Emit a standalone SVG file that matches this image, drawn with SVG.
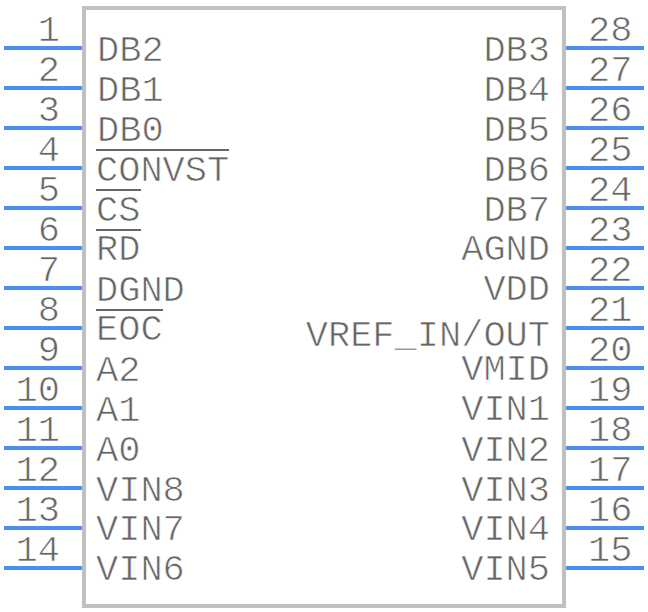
<svg xmlns="http://www.w3.org/2000/svg" width="648" height="612" viewBox="0 0 648 612">
<style>
text{font-family:"Liberation Mono","Courier New",monospace;font-size:37px;fill:#666;stroke:#fff;stroke-width:.7px;paint-order:fill stroke}
.r{text-anchor:end}
.n{text-anchor:end}
.p{stroke:#4a90f2;stroke-width:4;fill:none}
.o{stroke:#666;stroke-width:2;fill:none}
</style>
<rect width="648" height="612" fill="#fff"/>
<g id="body"><rect x="84" y="8" width="480" height="598" fill="#fff" stroke="#c0c0c0" stroke-width="4"/></g>
<g id="connectors">
<path class="p" d="M4 48H82M4 88H82M4 128H82M4 168H82M4 208H82M4 248H82M4 288H82M4 328H82M4 368H82M4 408H82M4 448H82M4 488H82M4 528H82M4 568H82M566 48H644M566 88H644M566 128H644M566 168H644M566 208H644M566 248H644M566 288H644M566 328H644M566 368H644M566 408H644M566 448H644M566 488H644M566 528H644M566 568H644"/>
</g>
<g id="pins-left">
<text class="n" x="60" y="40.5">1</text><text class="n" x="60" y="80.5">2</text><text class="n" x="60" y="120.5">3</text><text class="n" x="60" y="160.5">4</text><text class="n" x="60" y="200.5">5</text><text class="n" x="60" y="240.5">6</text><text class="n" x="60" y="280.5">7</text><text class="n" x="60" y="320.5">8</text><text class="n" x="60" y="360.5">9</text><text class="n" x="60" y="400.5">10</text><text class="n" x="60" y="440.5">11</text><text class="n" x="60" y="480.5">12</text><text class="n" x="60" y="520.5">13</text><text class="n" x="60" y="560.5">14</text>
</g>
<g id="pins-right">
<text x="588" y="40.5">28</text><text x="588" y="80.5">27</text><text x="588" y="120.5">26</text><text x="588" y="160.5">25</text><text x="588" y="200.5">24</text><text x="588" y="240.5">23</text><text x="588" y="280.5">22</text><text x="588" y="320.5">21</text><text x="588" y="360.5">20</text><text x="588" y="400.5">19</text><text x="588" y="440.5">18</text><text x="588" y="480.5">17</text><text x="588" y="520.5">16</text><text x="588" y="560.5">15</text>
</g>
<g id="labels-left">
<text x="97" y="60.5">DB2</text><text x="97" y="100.5">DB1</text><text x="97" y="140.5">DB0</text><text x="96" y="180.5">CONVST</text><text x="96" y="220.5">CS</text><text x="96" y="259.5">RD</text><text x="96" y="300.5">DGND</text><text x="96" y="340">EOC</text><text x="96" y="380.5">A2</text><text x="96" y="420.5">A1</text><text x="96" y="460.5">A0</text><text x="96" y="500.5">VIN8</text><text x="96" y="540">VIN7</text><text x="96" y="580">VIN6</text>
<path class="o" d="M96 150H229M96 190H141M96 230H141M96 310H163"/>
</g>
<g id="labels-right">
<text class="r" x="550" y="60.5">DB3</text><text class="r" x="550" y="100.5">DB4</text><text class="r" x="550" y="140.5">DB5</text><text class="r" x="550" y="180.5">DB6</text><text class="r" x="550" y="220.5">DB7</text><text class="r" x="550" y="260">AGND</text><text class="r" x="550" y="300">VDD</text><text class="r" x="550" y="346">VREF_IN/OUT</text><text class="r" x="550" y="380">VMID</text><text class="r" x="550" y="420">VIN1</text><text class="r" x="550" y="460.5">VIN2</text><text class="r" x="550" y="500.5">VIN3</text><text class="r" x="550" y="540">VIN4</text><text class="r" x="550" y="580">VIN5</text>
</g>
</svg>
